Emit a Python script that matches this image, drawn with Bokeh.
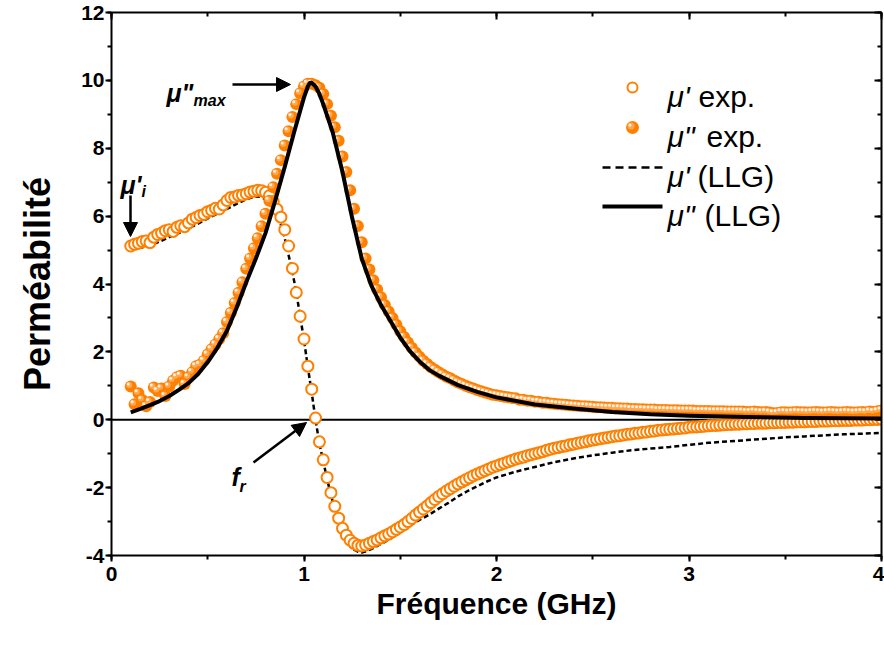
from bokeh.plotting import figure
from bokeh.models import Range1d, LinearAxis, SingleIntervalTicker, Span, Arrow, NormalHead
from bokeh.core.properties import value
from bokeh.embed import file_html
from bokeh.resources import INLINE

# ---------------- data ----------------
freq_exp = [
    0.10, 0.12, 0.14, 0.16, 0.18, 0.20, 0.22, 0.24, 0.26, 0.28,
    0.30, 0.32, 0.34, 0.36, 0.38, 0.40, 0.42, 0.44, 0.46, 0.48,
    0.50, 0.52, 0.54, 0.56, 0.58, 0.60, 0.62, 0.64, 0.66, 0.68,
    0.70, 0.72, 0.74, 0.76, 0.78, 0.80, 0.82, 0.84, 0.86, 0.88,
    0.90, 0.92, 0.94, 0.96, 0.98, 1.00, 1.02, 1.04, 1.06, 1.08,
    1.10, 1.12, 1.14, 1.16, 1.18, 1.20, 1.22, 1.24, 1.26, 1.28,
    1.30, 1.32, 1.34, 1.36, 1.38, 1.40, 1.42, 1.44, 1.46, 1.48,
    1.50, 1.52, 1.54, 1.56, 1.58, 1.60, 1.62, 1.64, 1.66, 1.68,
    1.70, 1.72, 1.74, 1.76, 1.78, 1.80, 1.82, 1.84, 1.86, 1.88,
    1.90, 1.92, 1.94, 1.96, 1.98, 2.00, 2.02, 2.04, 2.06, 2.08,
    2.10, 2.12, 2.14, 2.16, 2.18, 2.20, 2.22, 2.24, 2.26, 2.28,
    2.30, 2.32, 2.34, 2.36, 2.38, 2.40, 2.42, 2.44, 2.46, 2.48,
    2.50, 2.52, 2.54, 2.56, 2.58, 2.60, 2.62, 2.64, 2.66, 2.68,
    2.70, 2.72, 2.74, 2.76, 2.78, 2.80, 2.82, 2.84, 2.86, 2.88,
    2.90, 2.92, 2.94, 2.96, 2.98, 3.00, 3.02, 3.04, 3.06, 3.08,
    3.10, 3.12, 3.14, 3.16, 3.18, 3.20, 3.22, 3.24, 3.26, 3.28,
    3.30, 3.32, 3.34, 3.36, 3.38, 3.40, 3.42, 3.44, 3.46, 3.48,
    3.50, 3.52, 3.54, 3.56, 3.58, 3.60, 3.62, 3.64, 3.66, 3.68,
    3.70, 3.72, 3.74, 3.76, 3.78, 3.80, 3.82, 3.84, 3.86, 3.88,
    3.90, 3.92, 3.94, 3.96, 3.98, 4.00,
]

mu1_exp = [
    5.12, 5.17, 5.20, 5.25, 5.27, 5.22, 5.38, 5.46, 5.50, 5.57,
    5.60, 5.55, 5.67, 5.72, 5.69, 5.80, 5.91, 5.96, 6.02, 6.05,
    6.13, 6.17, 6.23, 6.21, 6.33, 6.46, 6.55, 6.56, 6.61, 6.62,
    6.66, 6.71, 6.73, 6.76, 6.75, 6.70, 6.60, 6.43, 6.20, 5.97,
    5.60, 5.12, 4.46, 3.75, 3.05, 2.38, 1.58, 0.90, 0.05, -0.65,
    -1.18, -1.70, -2.15, -2.55, -2.90, -3.20, -3.40, -3.55, -3.64, -3.70,
    -3.72, -3.69, -3.64, -3.59, -3.54, -3.48, -3.42, -3.37, -3.30, -3.23,
    -3.16, -3.09, -3.00, -2.91, -2.81, -2.72, -2.63, -2.54, -2.44, -2.35,
    -2.26, -2.18, -2.10, -2.03, -1.96, -1.89, -1.83, -1.77, -1.71, -1.65,
    -1.60, -1.55, -1.50, -1.45, -1.40, -1.36, -1.32, -1.28, -1.24, -1.20,
    -1.16, -1.13, -1.10, -1.06, -1.03, -1.00, -0.97, -0.94, -0.90, -0.87,
    -0.84, -0.82, -0.79, -0.77, -0.74, -0.72, -0.69, -0.67, -0.65, -0.62,
    -0.60, -0.58, -0.56, -0.54, -0.52, -0.50, -0.48, -0.47, -0.45, -0.43,
    -0.42, -0.40, -0.39, -0.37, -0.36, -0.34, -0.33, -0.31, -0.30, -0.29,
    -0.28, -0.27, -0.26, -0.25, -0.24, -0.22, -0.21, -0.21, -0.20, -0.19,
    -0.18, -0.17, -0.17, -0.16, -0.15, -0.14, -0.14, -0.13, -0.13, -0.12,
    -0.12, -0.11, -0.11, -0.10, -0.10, -0.10, -0.09, -0.09, -0.08, -0.08,
    -0.08, -0.07, -0.07, -0.06, -0.06, -0.06, -0.05, -0.05, -0.05, -0.04,
    -0.04, -0.04, -0.03, -0.03, -0.03, -0.02, -0.02, -0.02, -0.01, -0.01,
    -0.01, 0.00, 0.00, 0.01, 0.01, 0.02,
]

mu2_exp = [
    0.98, 0.46, 0.78, 0.58, 0.40, 0.52, 0.95, 0.85, 0.92, 0.70,
    0.98, 1.15, 1.25, 1.30, 1.05, 1.25, 1.40, 1.58, 1.62, 1.74,
    1.92, 2.08, 2.22, 2.38, 2.55, 2.88, 3.15, 3.44, 3.74, 4.05,
    4.45, 4.75, 5.05, 5.35, 5.70, 6.07, 6.45, 6.85, 7.25, 7.65,
    8.08, 8.50, 8.92, 9.30, 9.62, 9.82, 9.90, 9.90, 9.86, 9.78,
    9.60, 9.30, 8.96, 8.62, 8.22, 7.76, 7.30, 6.76, 6.22, 5.71,
    5.23, 4.75, 4.43, 4.11, 3.84, 3.61, 3.38, 3.19, 3.00, 2.80,
    2.61, 2.44, 2.28, 2.12, 1.98, 1.86, 1.74, 1.64, 1.55, 1.47,
    1.40, 1.33, 1.27, 1.22, 1.16, 1.10, 1.05, 1.00, 0.96, 0.92,
    0.88, 0.84, 0.80, 0.77, 0.74, 0.72, 0.70, 0.68, 0.66, 0.64,
    0.63, 0.59, 0.59, 0.56, 0.56, 0.53, 0.53, 0.50, 0.50, 0.48,
    0.47, 0.46, 0.45, 0.44, 0.43, 0.42, 0.41, 0.40, 0.40, 0.39,
    0.38, 0.37, 0.37, 0.36, 0.35, 0.35, 0.34, 0.34, 0.33, 0.33,
    0.32, 0.32, 0.31, 0.31, 0.30, 0.30, 0.30, 0.29, 0.29, 0.29,
    0.28, 0.28, 0.28, 0.27, 0.27, 0.27, 0.27, 0.26, 0.26, 0.26,
    0.26, 0.25, 0.25, 0.25, 0.25, 0.24, 0.24, 0.24, 0.24, 0.24,
    0.23, 0.23, 0.24, 0.23, 0.22, 0.23, 0.21, 0.19, 0.20, 0.22,
    0.22, 0.21, 0.22, 0.23, 0.22, 0.22, 0.21, 0.22, 0.23, 0.22,
    0.21, 0.22, 0.23, 0.22, 0.21, 0.22, 0.23, 0.22, 0.21, 0.22,
    0.23, 0.22, 0.24, 0.23, 0.25, 0.27,
]

freq_llg1 = [0.10, 0.15, 0.20, 0.25, 0.30, 0.35, 0.40, 0.45, 0.50, 0.55,
             0.60, 0.65, 0.70, 0.74, 0.77, 0.80, 0.83, 0.86, 0.88, 0.90,
             0.92, 0.94, 0.96, 0.98, 1.00, 1.02, 1.04, 1.06, 1.08, 1.10,
             1.12, 1.14, 1.16, 1.18, 1.20, 1.22, 1.24, 1.26, 1.28, 1.30,
             1.33, 1.36, 1.40, 1.45, 1.50, 1.55, 1.60, 1.65, 1.70, 1.75,
             1.80, 1.85, 1.90, 1.95, 2.00, 2.10, 2.20, 2.30, 2.40, 2.50,
             2.60, 2.70, 2.80, 2.90, 3.00, 3.10, 3.20, 3.30, 3.40, 3.50,
             3.60, 3.70, 3.80, 3.90, 4.00]
mu1_llg = [5.03, 5.07, 5.13, 5.25, 5.38, 5.50, 5.64, 5.78, 5.93, 6.07,
           6.21, 6.36, 6.50, 6.57, 6.58, 6.50, 6.33, 6.05, 5.75, 5.35,
           4.85, 4.35, 3.75, 3.05, 2.35, 1.55, 0.80, 0.00, -0.70, -1.22,
           -1.75, -2.22, -2.63, -3.00, -3.30, -3.55, -3.72, -3.83, -3.89, -3.91,
           -3.86, -3.78, -3.66, -3.50, -3.32, -3.12, -2.95, -2.80, -2.62, -2.45,
           -2.26, -2.10, -1.96, -1.82, -1.70, -1.53, -1.39, -1.25, -1.14, -1.05,
           -0.97, -0.90, -0.85, -0.80, -0.74, -0.68, -0.64, -0.60, -0.56, -0.52,
           -0.49, -0.46, -0.43, -0.41, -0.39]

freq_llg2 = [0.10, 0.15, 0.20, 0.25, 0.30, 0.35, 0.40, 0.45, 0.50, 0.55,
             0.60, 0.65, 0.70, 0.75, 0.80, 0.85, 0.90, 0.95, 0.98, 1.00,
             1.02, 1.03, 1.04, 1.06, 1.08, 1.10, 1.15, 1.20, 1.25, 1.30,
             1.35, 1.40, 1.45, 1.50, 1.55, 1.60, 1.65, 1.70, 1.80, 1.90,
             2.00, 2.20, 2.40, 2.60, 2.80, 3.00, 3.30, 3.60, 4.00]
mu2_llg = [0.22, 0.32, 0.43, 0.55, 0.70, 0.88, 1.08, 1.35, 1.70, 2.12,
           2.62, 3.30, 4.05, 4.75, 5.50, 6.45, 7.45, 8.50, 9.10, 9.50,
           9.82, 9.92, 9.93, 9.82, 9.60, 9.30, 8.45, 7.30, 5.95, 4.75,
           3.95, 3.38, 2.90, 2.42, 2.02, 1.72, 1.47, 1.30, 1.02, 0.82,
           0.66, 0.45, 0.33, 0.23, 0.16, 0.12, 0.08, 0.05, 0.04]

x_tick_labels = {0: "0", 1: "1", 2: "2", 3: "3", 4: "4"}
y_tick_labels = {-4: "-4", -2: "-2", 0: "0", 2: "2", 4: "4", 6: "6", 8: "8", 10: "10", 12: "12"}

legend_labels = [("\u03bc'", "exp."), ('\u03bc"', "exp."), ("\u03bc'", "(LLG)"), ('\u03bc"', "(LLG)")]

# ---------------- styling constants ----------------
ORANGE = "#FF8000"
FONT = "Liberation Sans"
W, H = 884, 647
L, R, T, B = 111, 3, 12, 92
XMIN, XMAX, YMIN, YMAX = 0, 4, -4, 12
SX = (W - L - R) / (XMAX - XMIN)   # px per GHz
SY = (H - T - B) / (YMAX - YMIN)   # px per unit


def dx(px):  # canvas px -> data x
    return XMIN + (px - L) / SX


def dy(py):  # canvas px -> data y
    return YMAX - (py - T) / SY


p = figure(width=W, height=H, x_range=Range1d(XMIN, XMAX), y_range=Range1d(YMIN, YMAX),
           output_backend="svg", toolbar_location=None,
           min_border_left=L, min_border_right=R, min_border_top=T, min_border_bottom=B,
           x_axis_label="Fréquence (GHz)", y_axis_label="Perméabilité")
p.background_fill_color = "white"
p.border_fill_color = "white"
p.outline_line_color = None
p.xgrid.visible = False
p.ygrid.visible = False

for ax in (p.xaxis[0], p.yaxis[0]):
    ax.axis_line_width = 2
    ax.major_tick_line_width = 2
    ax.minor_tick_line_width = 2
    ax.major_tick_out = 6
    ax.major_tick_in = 0
    ax.minor_tick_out = 4
    ax.minor_tick_in = 0
    ax.major_label_text_font = FONT
    ax.major_label_text_font_style = "bold"
    ax.major_label_text_font_size = "21px"
    ax.major_label_text_color = "black"
    ax.axis_label_text_font = FONT
    ax.axis_label_text_font_style = "bold"
    ax.axis_label_text_color = "black"

p.xaxis[0].ticker = SingleIntervalTicker(interval=1, num_minor_ticks=2)
p.yaxis[0].ticker = SingleIntervalTicker(interval=2, num_minor_ticks=2)
p.xaxis[0].major_label_overrides = x_tick_labels
p.yaxis[0].major_label_overrides = y_tick_labels
p.xaxis[0].major_label_standoff = 5
p.yaxis[0].major_label_standoff = 1
p.xaxis[0].axis_label_text_font_size = "30px"
p.yaxis[0].axis_label_text_font_size = "36px"
p.xaxis[0].axis_label_standoff = 3
p.yaxis[0].axis_label_standoff = 20

# mirror axes (inward ticks, no labels)
for side, interval in (("right", 2), ("above", 1)):
    a = LinearAxis(ticker=SingleIntervalTicker(interval=interval, num_minor_ticks=2),
                   axis_line_width=2, major_tick_line_width=2, minor_tick_line_width=2,
                   major_tick_in=7, major_tick_out=0, minor_tick_in=4, minor_tick_out=0,
                   major_label_text_font_size="0px", major_label_text_alpha=0,
                   major_label_standoff=0)
    p.add_layout(a, side)

p.add_layout(Span(location=0, dimension="width", line_color="black", line_width=2, level="underlay"))

# ---------------- series ----------------
p.line(freq_llg1, mu1_llg, line_color="black", line_width=2.5, line_dash="5 3")
p.scatter(freq_exp, mu1_exp, marker="circle", size=11, fill_color="white",
          line_color=ORANGE, line_width=2)

hl1_x = [f - 1.5 / SX for f in freq_exp]
hl1_y = [m + 1.5 / SY for m in mu2_exp]
hl2_x = [f - 2.5 / SX for f in freq_exp]
hl2_y = [m + 2.5 / SY for m in mu2_exp]
p.scatter(freq_exp, mu2_exp, marker="circle", size=12, fill_color=ORANGE, line_color=None)
p.scatter(hl1_x, hl1_y, marker="circle", size=6, fill_color="#FFA850", line_color=None)
p.scatter(hl2_x, hl2_y, marker="circle", size=3, fill_color="#FFF0E0", line_color=None)

p.line(freq_llg2, mu2_llg, line_color="black", line_width=4, line_join="round")

# ---------------- legend (drawn by hand) ----------------
row_y = [87, 127, 167, 206]
p.scatter([dx(632)], [dy(row_y[0])], marker="circle", size=10, fill_color="white",
          line_color=ORANGE, line_width=2)
p.scatter([dx(632)], [dy(row_y[1])], marker="circle", size=13, fill_color=ORANGE, line_color=None)
p.scatter([dx(630.5)], [dy(row_y[1] - 1.5)], marker="circle", size=7, fill_color="#FFA850", line_color=None)
p.scatter([dx(629.5)], [dy(row_y[1] - 2.5)], marker="circle", size=3, fill_color="#FFF0E0", line_color=None)
p.line([dx(602), dx(662)], [dy(row_y[2])] * 2, line_color="black", line_width=2.5, line_dash="8 5")
p.line([dx(602), dx(662)], [dy(row_y[3])] * 2, line_color="black", line_width=4)

base_y = [dy(r + 9) for r in row_y]
p.text([dx(667)] * 4, base_y, text=[a for a, b in legend_labels],
       text_font=value(FONT), text_font_size="30px", text_font_style="italic",
       text_baseline="alphabetic", text_align="left", text_color="black")
p.text([dx(698), dx(706), dx(697), dx(704)], base_y, text=[b for a, b in legend_labels],
       text_font=value(FONT), text_font_size="30px", text_font_style="normal",
       text_baseline="alphabetic", text_align="left", text_color="black")

# ---------------- annotations ----------------
p.text([dx(166), dx(120), dx(231)], [dy(92), dy(184), dy(476)],
       text=['\u03bc"', "\u03bc'", "f"],
       text_font=value(FONT), text_font_size="25px", text_font_style="bold italic",
       text_baseline="alphabetic", text_align="left", text_color="black")
p.text([dx(193), dx(141), dx(239)], [dy(100), dy(191), dy(486)],
       text=["max", "i", "r"],
       text_font=value(FONT), text_font_size="16px", text_font_style="bold italic",
       text_baseline="alphabetic", text_align="left", text_color="black")

for (x0, y0, x1, y1) in ((232, 84, 290, 84), (130, 195, 130, 236), (253, 462, 306, 422)):
    p.add_layout(Arrow(end=NormalHead(size=14, fill_color="black", line_color="black", line_width=1),
                       x_start=dx(x0), y_start=dy(y0), x_end=dx(x1), y_end=dy(y1),
                       line_color="black", line_width=2.5))

open("out.html", "w").write(file_html(p, INLINE))
